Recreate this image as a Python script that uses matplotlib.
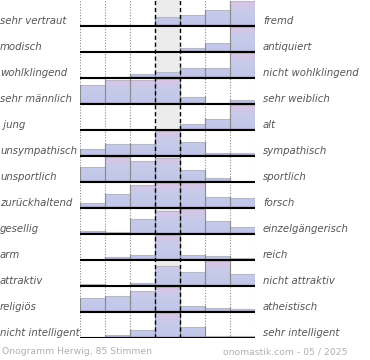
import numpy as np
import matplotlib.pyplot as plt
from matplotlib.colors import LinearSegmentedColormap
from matplotlib.patches import Rectangle

# Gegensatzpaare (links / rechts)
links = ['sehr vertraut', 'modisch', 'wohlklingend', 'sehr männlich', ' jung',
         'unsympathisch', 'unsportlich', 'zurückhaltend', 'gesellig', 'arm',
         'attraktiv', 'religiös', 'nicht intelligent']
rechts = ['fremd', 'antiquiert', 'nicht wohlklingend', 'sehr weiblich', 'alt',
          'sympathisch', 'sportlich', 'forsch', 'einzelgängerisch', 'reich',
          'nicht attraktiv', 'atheistisch', 'sehr intelligent']

# Stimmenanteile je Stufe (7 Stufen)
werte = [
    [1.3, 1.3, 1.3, 9.0, 10.7, 15.3, 24.3],
    [0.0, 0.0, 0.6, 0.6, 3.7, 9.0, 24.7],
    [0.0, 1.0, 4.3, 5.7, 10.0, 10.0, 24.3],
    [18.3, 23.5, 24.0, 24.3, 6.7, 0.5, 3.7],
    [0.0, 1.5, 0.0, 1.5, 6.0, 11.0, 25.0],
    [7.0, 11.5, 11.5, 24.0, 14.0, 3.0, 3.0],
    [15.3, 25.0, 21.3, 24.0, 12.0, 4.3, 0.0],
    [5.0, 13.3, 21.0, 23.0, 23.0, 10.7, 9.0],
    [3.3, 2.3, 14.3, 22.0, 23.7, 12.0, 6.3],
    [0.0, 2.7, 5.3, 25.0, 5.3, 4.0, 1.7],
    [2.3, 0.0, 3.3, 19.7, 14.3, 24.7, 12.0],
    [14.0, 16.0, 21.0, 24.7, 6.0, 3.7, 2.7],
    [0.0, 2.7, 7.7, 24.0, 10.7, 2.0, 2.0],
]

fusszeile_links = 'Onogramm Herwig, 85 Stimmen'
fusszeile_rechts = 'onomastik.com - 05 / 2025'

n = len(links)
stufen = 7

fig = plt.figure(figsize=(3.7, 3.6), dpi=100)
ax = fig.add_axes([80 / 370, 1 - 338 / 360, 175 / 370, 338 / 360])
ax.set_xlim(0, stufen)
ax.set_ylim(0, n)
ax.axis('off')

# Farbverlauf der Balken (unten lila, Mitte blau, oben rosa)
cmap = LinearSegmentedColormap.from_list(
    'ono', [(0.0, '#9c94cb'), (0.08, '#c2c7ea'), (0.55, '#c6cbea'), (1.0, '#dfc4e5')])
grad = np.linspace(0, 1, 64).reshape(-1, 1)

# mittlere Spalte grau hinterlegt
ax.add_patch(Rectangle((3, 0), 1, n, facecolor='#ececec', edgecolor='none', zorder=0))

# Spaltenlinien
for x in [0, 1, 2, 5, 6, 7]:
    ax.plot([x, x], [0, n], color='#8a8a8a', lw=0.8, ls=(0, (1, 1.5)), zorder=1)

for i in range(n):
    basis = n - 1 - i
    zeile = np.array(werte[i])
    hoehen = zeile / zeile.max() * 0.95
    for j in range(stufen):
        h = hoehen[j]
        if h <= 0:
            continue
        rect = Rectangle((j, basis), 1, h, facecolor='none', edgecolor='none', zorder=3)
        ax.add_patch(rect)
        im = ax.imshow(grad, cmap=cmap, origin='lower', aspect='auto',
                       extent=(j, j + 1, basis, basis + 1), zorder=2,
                       interpolation='bilinear')
        im.set_clip_path(rect)
        # Kanten: seitlich dunkler, oben heller
        ax.plot([j, j + 1], [basis + h, basis + h], color='#b8b8c0', lw=0.8, zorder=3)
        ax.plot([j, j], [basis, basis + h], color='#8c8c8c', lw=0.8, zorder=3)
        ax.plot([j + 1, j + 1], [basis, basis + h], color='#8c8c8c', lw=0.8, zorder=3)
    ax.plot([0, stufen + 0.03], [basis, basis], color='black', lw=1.5, zorder=4,
            solid_capstyle='butt')
    ax.text(-80 / 25, basis + 0.2, links[i], ha='left', va='center',
            fontsize=7.3, style='italic', color='#555555')
    ax.text(stufen + 8 / 25, basis + 0.2, rechts[i], ha='left', va='center',
            fontsize=7.3, style='italic', color='#555555')

# gestrichelte Linien um die Mitte
for x in [3, 4]:
    ax.plot([x, x], [0, n], color='black', lw=1.0, ls=(0, (3, 2)), zorder=5)

fig.text(2 / 370, 1 - 352 / 360, fusszeile_links, ha='left', va='center',
         fontsize=6.7, color='#b0b0b0')
fig.text(347 / 370, 1 - 352 / 360, fusszeile_rechts, ha='right', va='center',
         fontsize=6.7, color='#b0b0b0')

fig.savefig('out.png', dpi=100)
